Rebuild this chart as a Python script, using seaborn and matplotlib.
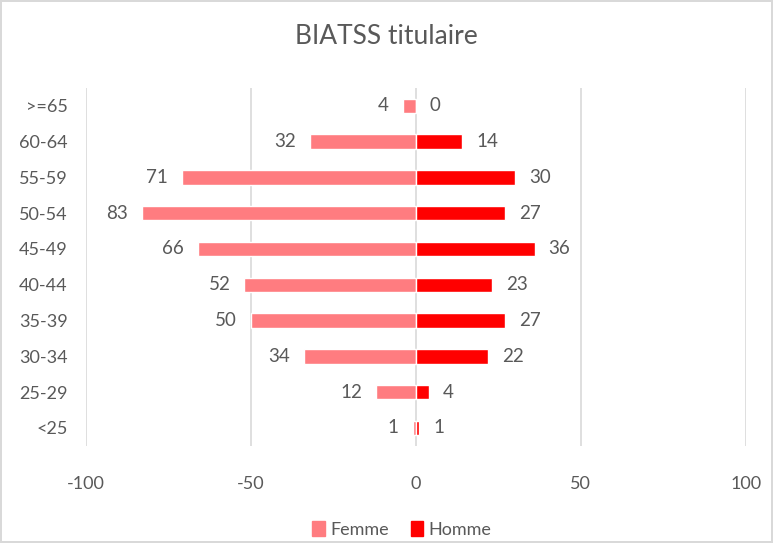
import numpy as np
import pandas as pd
import seaborn as sns
import matplotlib
import matplotlib.pyplot as plt

matplotlib.use("Agg")

ages = ['>=65', '60-64', '55-59', '50-54', '45-49', '40-44', '35-39', '30-34', '25-29', '<25']
femme = [4, 32, 71, 83, 66, 52, 50, 34, 12, 1]
homme = [0, 14, 30, 27, 36, 23, 27, 22, 4, 1]
xticks = [-100, -50, 0, 50, 100]

txt_col = '#595959'
grid_col = '#D9D9D9'
colors = {'Femme': '#FF7C80', 'Homme': '#FF0000'}

df = pd.concat([
    pd.DataFrame({'age': ages, 'valeur': [-v for v in femme], 'sexe': 'Femme'}),
    pd.DataFrame({'age': ages, 'valeur': homme, 'sexe': 'Homme'}),
])

sns.set_style('white')
plt.rcParams['font.family'] = ['Lato', 'DejaVu Sans']

fig = plt.figure(figsize=(7.73, 5.43), dpi=100)
fig.patch.set_edgecolor(grid_col)
fig.patch.set_linewidth(1.5)
ax = fig.add_axes([0.111, 0.179, 0.854, 0.659])

sns.barplot(data=df, x='valeur', y='age', hue='sexe', order=ages,
            palette=colors, saturation=1, dodge=False, width=0.4, orient='h',
            ax=ax, legend=False, zorder=3)

# labels: absolute values next to each bar
for cont, vals in zip(ax.containers, [femme, homme]):
    ax.bar_label(cont, labels=[str(v) for v in vals], padding=10,
                 color=txt_col, fontsize=13.5)

ax.set_xlim(-100, 100)
ax.set_ylim(9.5, -0.5)
ax.set_xticks(xticks)
ax.set_xticklabels([str(t) for t in xticks])
ax.xaxis.grid(True, color=grid_col, linewidth=1.2, zorder=0)
ax.set_axisbelow(True)
for s in ax.spines.values():
    s.set_visible(False)
ax.tick_params(axis='both', length=0, labelsize=13, labelcolor=txt_col)
ax.tick_params(axis='x', pad=22)
ax.tick_params(axis='y', pad=13)
ax.set_xlabel('')
ax.set_ylabel('')

fig.suptitle('BIATSS titulaire', y=0.955, fontsize=19, color=txt_col)

handles = [plt.Rectangle((0, 0), 1, 1, color=colors[k]) for k in ['Femme', 'Homme']]
fig.legend(handles, ['Femme', 'Homme'], loc='lower center', ncol=2, frameon=False,
           bbox_to_anchor=(0.52, -0.02), handlelength=0.7, handleheight=0.9,
           handletextpad=0.3, columnspacing=1.2, fontsize=13, labelcolor=txt_col)

fig.savefig('out.png', dpi=100)
